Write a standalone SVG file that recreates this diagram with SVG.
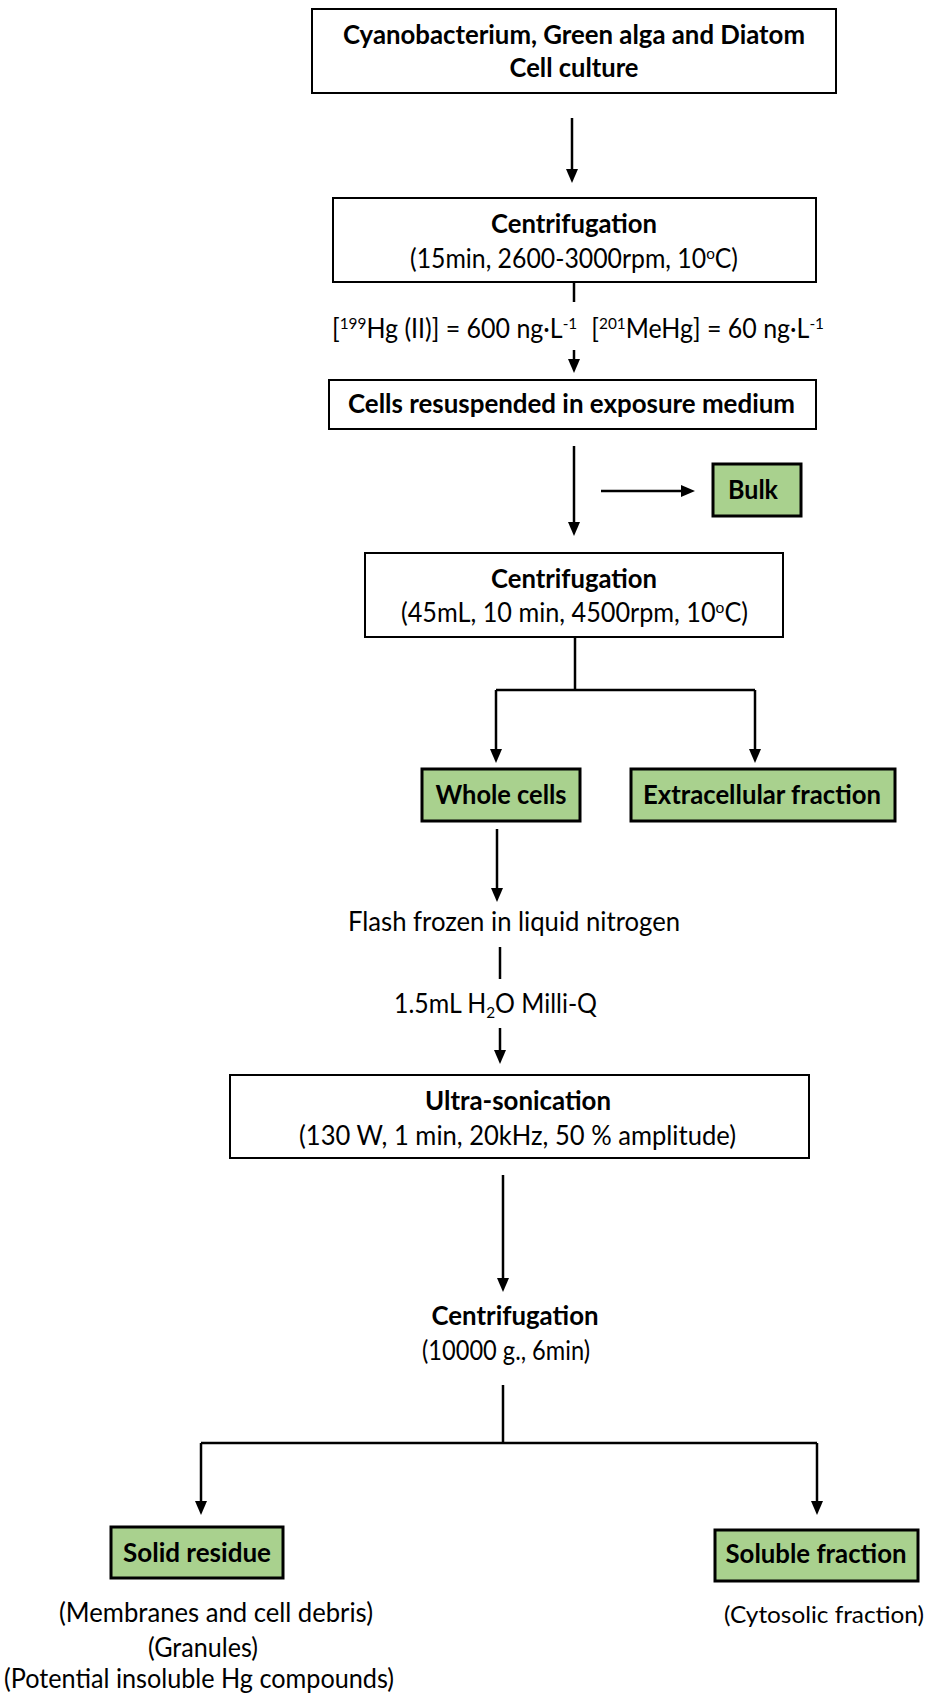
<svg xmlns="http://www.w3.org/2000/svg" width="933" height="1695" viewBox="0 0 933 1695">
<style>
text{font-family:Lato,"Liberation Sans",sans-serif;font-size:26px;fill:#000}
.b{font-weight:bold}
.m{text-anchor:middle}
.box{fill:#fff;stroke:#000;stroke-width:2}
.gbox{fill:#A9D18E;stroke:#000;stroke-width:3}
.c{stroke:#000;stroke-width:2.5;fill:none}
.a{marker-end:url(#ah)}
.sup{font-size:16px}
</style>
<defs>
<marker id="ah" viewBox="0 0 14 12" refX="2" refY="6" markerWidth="14" markerHeight="12" markerUnits="userSpaceOnUse" orient="auto">
<path d="M0,0 L14,6 L0,12 z" fill="#000"/>
</marker>
</defs>
<rect width="933" height="1695" fill="#fff"/>

<g id="connectors">
<path class="c a" d="M572,118 V171"/>
<path class="c" d="M574,282 V302"/>
<path class="c a" d="M574,350 V361"/>
<path class="c a" d="M574,446 V524"/>
<path class="c a" d="M601,491 H683"/>
<path class="c" d="M575,637 V690"/>
<path class="c" d="M496,690 H755"/>
<path class="c a" d="M496,690 V751"/>
<path class="c a" d="M755,690 V751"/>
<path class="c a" d="M497,829 V890"/>
<path class="c" d="M500,947 V979"/>
<path class="c a" d="M500,1028 V1052"/>
<path class="c a" d="M503,1175 V1280"/>
<path class="c" d="M503,1385 V1443"/>
<path class="c" d="M201,1443 H817"/>
<path class="c a" d="M201,1443 V1503"/>
<path class="c a" d="M817,1443 V1503"/>
</g>

<g id="culture">
<rect class="box" x="312" y="9" width="524" height="84"/>
<text class="b m" x="574" y="44" textLength="462" lengthAdjust="spacingAndGlyphs">Cyanobacterium, Green alga and Diatom</text>
<text class="b m" x="574" y="77" textLength="129" lengthAdjust="spacingAndGlyphs">Cell culture</text>
</g>

<g id="centrifugation1">
<rect class="box" x="333" y="198" width="483" height="84"/>
<text class="b m" x="574" y="233" textLength="166" lengthAdjust="spacingAndGlyphs">Centrifugation</text>
<text class="m" x="574" y="268" textLength="328" lengthAdjust="spacingAndGlyphs">(15min, 2600-3000rpm, 10<tspan class="sup" dy="-9">o</tspan><tspan dy="9">C)</tspan></text>
</g>

<g id="hg-label">
<text x="332" y="338" textLength="492" lengthAdjust="spacingAndGlyphs">[<tspan class="sup" dy="-9">199</tspan><tspan dy="9">Hg (II)] = 600 ng·L</tspan><tspan class="sup" dy="-9">-1</tspan><tspan dy="9" dx="8"> [</tspan><tspan class="sup" dy="-9">201</tspan><tspan dy="9">MeHg] = 60 ng·L</tspan><tspan class="sup" dy="-9">-1</tspan></text>
</g>

<g id="resuspended">
<rect class="box" x="329" y="380" width="487" height="49"/>
<text class="b" x="348" y="413" textLength="447" lengthAdjust="spacingAndGlyphs">Cells resuspended in exposure medium</text>
</g>

<g id="bulk">
<rect class="gbox" x="713" y="464" width="88" height="52"/>
<text class="b m" x="753" y="499" textLength="50" lengthAdjust="spacingAndGlyphs">Bulk</text>
</g>

<g id="centrifugation2">
<rect class="box" x="365" y="553" width="418" height="84"/>
<text class="b m" x="574" y="588" textLength="166" lengthAdjust="spacingAndGlyphs">Centrifugation</text>
<text class="m" x="574.5" y="622" textLength="347" lengthAdjust="spacingAndGlyphs">(45mL, 10 min, 4500rpm, 10<tspan class="sup" dy="-9">o</tspan><tspan dy="9">C)</tspan></text>
</g>

<g id="whole-cells">
<rect class="gbox" x="422" y="769" width="158" height="52"/>
<text class="b m" x="501" y="804" textLength="131" lengthAdjust="spacingAndGlyphs">Whole cells</text>
</g>

<g id="extracellular">
<rect class="gbox" x="631" y="769" width="264" height="52"/>
<text class="b m" x="762" y="804" textLength="238" lengthAdjust="spacingAndGlyphs">Extracellular fraction</text>
</g>

<g id="flash-frozen">
<text x="348" y="931" textLength="332" lengthAdjust="spacingAndGlyphs">Flash frozen in liquid nitrogen</text>
</g>

<g id="milliq">
<text x="394" y="1013" textLength="203" lengthAdjust="spacingAndGlyphs">1.5mL H<tspan class="sup" dy="5">2</tspan><tspan dy="-5">O Milli-Q</tspan></text>
</g>

<g id="ultrasonication">
<rect class="box" x="230" y="1075" width="579" height="83"/>
<text class="b m" x="518" y="1110" textLength="186" lengthAdjust="spacingAndGlyphs">Ultra-sonication</text>
<text x="299" y="1145" textLength="437" lengthAdjust="spacingAndGlyphs">(130 W, 1 min, 20kHz, 50 % amplitude)</text>
</g>

<g id="centrifugation3">
<text class="b m" x="515" y="1325" textLength="167" lengthAdjust="spacingAndGlyphs">Centrifugation</text>
<text class="m" x="506" y="1360" textLength="168" lengthAdjust="spacingAndGlyphs">(10000 g., 6min)</text>
</g>

<g id="solid-residue">
<rect class="gbox" x="111" y="1527" width="172" height="51"/>
<text class="b m" x="197" y="1562" textLength="148" lengthAdjust="spacingAndGlyphs">Solid residue</text>
<text x="59" y="1622" textLength="314" lengthAdjust="spacingAndGlyphs">(Membranes and cell debris)</text>
<text class="m" x="203" y="1657" textLength="110" lengthAdjust="spacingAndGlyphs">(Granules)</text>
<text x="4" y="1688" textLength="390" lengthAdjust="spacingAndGlyphs">(Potential insoluble Hg compounds)</text>
</g>

<g id="soluble-fraction">
<rect class="gbox" x="715" y="1530" width="203" height="51"/>
<text class="b m" x="816" y="1563" textLength="181" lengthAdjust="spacingAndGlyphs">Soluble fraction</text>
<text x="724" y="1623" style="font-size:24px" textLength="200" lengthAdjust="spacingAndGlyphs">(Cytosolic fraction)</text>
</g>
</svg>
